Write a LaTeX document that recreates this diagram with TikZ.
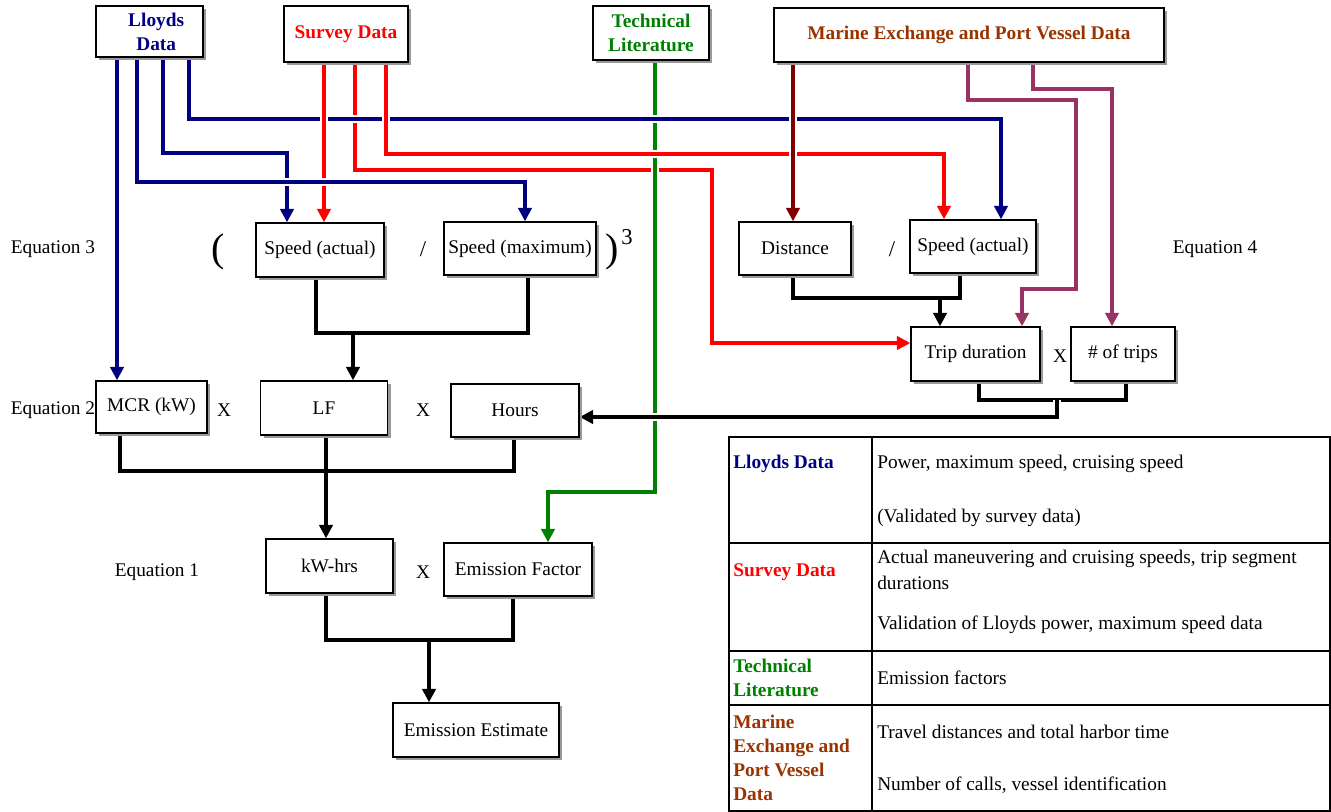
\documentclass[tikz,border=0pt]{standalone}
\usepackage{fontspec}
\setmainfont{Liberation Serif}
\usetikzlibrary{arrows.meta,shadows,calc}
\pgfdeclarelayer{bg}
\pgfsetlayers{bg,main}
\definecolor{navy}{RGB}{0,0,128}
\definecolor{lred}{RGB}{255,0,0}
\definecolor{lgreen}{RGB}{0,128,0}
\definecolor{brownish}{RGB}{153,51,0}
\definecolor{dred}{RGB}{128,0,0}
\definecolor{purp}{RGB}{153,51,102}
\newcommand\hdrfont{\fontsize{14.5}{18}\selectfont\bfseries}
\newcommand\bodyfont{\fontsize{14.5}{17.5}\selectfont}
\begin{document}
\begin{tikzpicture}[x=0.75pt,y=-0.75pt,
  txt/.style={font=\bodyfont, inner sep=0pt},
  box/.style 2 args={draw, line width=1.1pt, fill=white, minimum width=#1*0.75pt, minimum height=#2*0.75pt, inner sep=0pt, align=center, font=\bodyfont, drop shadow={shadow xshift=2.5pt, shadow yshift=-2.5pt, fill=gray!80, opacity=1}},
  conn/.style={line width=2.4pt},
  halo/.style={preaction={draw=white, line width=6.5pt}},
  tip/.style={-{Triangle[length=10pt,width=10pt]}},
]
\useasboundingbox (0,0) rectangle (1331,812);

% source boxes
\node[box={107}{51}, text=navy, font=\hdrfont] (lloyds) at (149.5,31.5) {\hspace*{10pt}Lloyds\\\hspace*{10pt}Data};
\node[box={124}{56}, text=lred, font=\hdrfont] (survey) at (346,34) {Survey Data};
\node[box={116}{54}, text=lgreen, font=\hdrfont] (tech) at (651,33) {Technical\\Literature};
\node[box={390}{54}, text=brownish, font=\hdrfont] (marine) at (969,35) {Marine Exchange and Port Vessel Data};

% equation boxes
\node[box={128}{54}] (sa1) at (320,250) {Speed (actual)};
\node[box={152}{53}] (smax) at (520,248.5) {Speed (maximum)};
\node[box={111}{52}] (mcr) at (151.5,407) {MCR (kW)};
\node[box={127}{54}] (lf) at (324,408) {LF};
\node[box={128}{53}] (hours) at (515,410.5) {Hours};
\node[box={127}{54}] (kwh) at (329.5,566) {kW-hrs};
\node[box={148}{53}] (ef) at (518,569.5) {Emission Factor};
\node[box={166}{54}] (est) at (476,730) {Emission Estimate};
\node[box={112}{53}] (dist) at (795,248.5) {Distance};
\node[box={126}{53}] (sa2) at (973,246.5) {Speed (actual)};
\node[box={129}{54}] (trip) at (975.5,354) {Trip duration};
\node[box={104}{54}] (ntrips) at (1123,354) {\# of trips};

% labels
\node[txt] (eq3) at (53,249) {Equation 3};
\node[txt] (eq2) at (53,410) {Equation 2};
\node[txt] (eq1) at (157,572) {Equation 1};
\node[txt] (eq4) at (1215,249) {Equation 4};
\node[font=\fontsize{30}{30}\selectfont, inner sep=0pt] (lp) at (218,252) {(};
\node[font=\fontsize{30}{30}\selectfont, inner sep=0pt] (rp) at (612,252) {)};
\node[font=\fontsize{17}{17}\selectfont, inner sep=0pt] (cube) at (627,237) {3};
\node[txt, font=\fontsize{17}{17}\selectfont] (sl1) at (423,249) {/};
\node[txt, font=\fontsize{17}{17}\selectfont] (sl2) at (892,249) {/};
\node[txt] (x1) at (224,410) {X};
\node[txt] (x2) at (423,410) {X};
\node[txt] (x3) at (423,572) {X};
\node[txt] (x4) at (1060,356) {X};

\begin{pgfonlayer}{bg}
\fill[white] (0,0) rectangle (1331,812);
% survey -> trip duration (lowest)
\draw[conn, lred, tip] (355,0 |- survey.south) -- (355,170) -- (712,170) -- (712,343) -- (trip.west |- 0,343);
% technical literature -> emission factor
\draw[conn, lgreen, tip, halo] (655,0 |- tech.south) -- (655,492) -- (548,492) -- (548,0 |- ef.north);
% lloyds -> speed actual (right)
\draw[conn, navy, tip, halo] (189,0 |- lloyds.south) -- (189,119) -- (1001,119) -- (1001,0 |- sa2.north);
% survey -> speed actual (left)
\draw[conn, lred, tip, halo] (324,0 |- survey.south) -- (324,0 |- sa1.north);
% lloyds -> speed actual (left)
\draw[conn, navy, tip, halo] (163,0 |- lloyds.south) -- (163,153) -- (287,153) -- (287,0 |- sa1.north);
% lloyds -> speed maximum
\draw[conn, navy, tip, halo] (137,0 |- lloyds.south) -- (137,182) -- (525,182) -- (525,0 |- smax.north);
% survey -> speed actual (right)
\draw[conn, lred, tip, halo] (386,0 |- survey.south) -- (386,154) -- (944,154) -- (944,0 |- sa2.north);
% marine -> distance
\draw[conn, dred, tip, halo] (793,0 |- marine.south) -- (793,0 |- dist.north);
% lloyds -> MCR
\draw[conn, navy, tip] (117,0 |- lloyds.south) -- (117,0 |- mcr.north);
% marine -> trip duration / # of trips
\draw[conn, purp, tip] (968,0 |- marine.south) -- (968,100) -- (1076,100) -- (1076,289) -- (1022,289) -- (1022,0 |- trip.north);
\draw[conn, purp, tip] (1033,0 |- marine.south) -- (1033,89) -- (1112,89) -- (1112,0 |- ntrips.north);
% black combining connectors
\draw[conn] (979,0 |- trip.south) -- (979,400) -- (1126,400) -- (1126,0 |- ntrips.south);
\draw[conn, tip, halo] (1057,400) -- (1057,417) -- (hours.east |- 0,417);
\draw[conn] (316,0 |- sa1.south) -- (316,333) -- (528,333) -- (528,0 |- smax.south);
\draw[conn, tip] (353,333) -- (353,0 |- lf.north);
\draw[conn] (793,0 |- dist.south) -- (793,298) -- (960,298) -- (960,0 |- sa2.south);
\draw[conn, tip] (940,298) -- (940,0 |- trip.north);
\draw[conn] (120,0 |- mcr.south) -- (120,471) -- (514,471) -- (514,0 |- hours.south);
\draw[conn, tip] (326,0 |- lf.south) -- (326,0 |- kwh.north);
\draw[conn] (326,0 |- kwh.south) -- (326,640) -- (513,640) -- (513,0 |- ef.south);
\draw[conn, tip] (429,640) -- (429,0 |- est.north);
\end{pgfonlayer}

% table
\draw[line width=1.5pt] (729,437) rectangle (1330,811);
\draw[line width=1.5pt] (872,437) -- (872,811);
\draw[line width=1.5pt] (729,543) -- (1330,543);
\draw[line width=1.5pt] (729,651) -- (1330,651);
\draw[line width=1.5pt] (729,705) -- (1330,705);

\node[txt, anchor=west, text=navy, font=\hdrfont] (tl1) at (733,464) {Lloyds Data};
\node[txt, anchor=west] (tr1a) at (877,464) {Power, maximum speed, cruising speed};
\node[txt, anchor=west] (tr1b) at (877,518) {(Validated by survey data)};
\node[txt, anchor=west, text=lred, font=\hdrfont] (tl2) at (733,572) {Survey Data};
\node[txt, anchor=west] (tr2a) at (877,559) {Actual maneuvering and cruising speeds, trip segment};
\node[txt, anchor=west] (tr2b) at (877,583) {durations};
\node[txt, anchor=west] (tr2c) at (877,625) {Validation of Lloyds power, maximum speed data};
\node[txt, anchor=west, text=lgreen, font=\hdrfont, align=left] (tl3) at (733,678) {Technical\\Literature};
\node[txt, anchor=west] (tr3) at (877,678) {Emission factors};
\node[txt, anchor=west, text=brownish, font=\hdrfont, align=left] (tl4) at (733,758) {Marine\\Exchange and\\Port Vessel\\Data};
\node[txt, anchor=west] (tr4a) at (877,732) {Travel distances and total harbor time};
\node[txt, anchor=west] (tr4b) at (877,785) {Number of calls, vessel identification};
\end{tikzpicture}
\end{document}
